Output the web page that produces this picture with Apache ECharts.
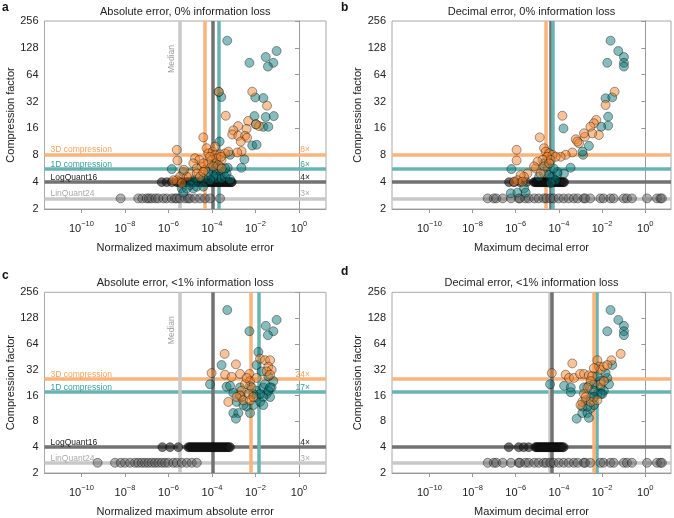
<!DOCTYPE html>
<html><head><meta charset="utf-8">
<script src="https://cdn.jsdelivr.net/npm/echarts@6.0.0/dist/echarts.min.js"></script>
<style>html,body{margin:0;padding:0;background:#fff}#c{width:674px;height:518px}</style>
</head><body><div id="c"></div>
<script>
// ---------- data (x = log10 of error, y = compression factor) ----------
const xTickExponents = [-10, -8, -6, -4, -2, 0];
const LOGQUANT16_FACTOR = 4;
const LINQUANT24_FACTOR = 2.63;

// panel a
const aLinQuant24 = [-8.20,-7.39,-7.20,-7.00,-6.90,-6.77,-6.60,-6.47,-6.24,-6.08,-5.85,-5.70,-5.62,-5.47,-5.24,-5.10,-5.01,-4.78,-4.55,-4.32,-4.09,-3.63];
const aLogQuant16 = [-6.31,-6.08,-5.85,-5.62,-5.55,-5.48,-5.41,-5.34,-5.27,-5.20,-5.13,-5.06,-4.99,-4.92,-4.85,-4.78,-4.71,-4.64,-4.57,-4.50,-4.44,-4.38,-4.32,-4.26,-4.20,-4.14,-4.08,-4.02,-3.96,-3.90,-3.84,-3.78,-3.72,-3.66,-3.60,-3.54,-3.48,-3.42,-3.36,-3.30,-3.24,-3.18,-3.12,-3.09];
const a1D = [[-3.30,154],[-1.03,118],[-1.53,101],[-1.18,87],[-2.28,87],[-1.43,79],[-3.69,41],[-3.57,36],[-2.01,35.6],[-1.64,35],[-2.05,22],[-1.53,21.5],[-1.16,22],[-1.64,16.7],[-1.41,16.7],[-1.98,17.8],[-2.15,10.3],[-1.95,10.5],[-3.65,11.4],[-3.17,8.1],[-2.51,7.2],[-3.28,5.8],[-2.65,5.8],[-5.85,5.6],[-5.32,5.2],[-5.39,3.4],[-5.32,3.05],[-4.86,3.4],[-3.94,5.2],[-3.79,5.0],[-3.63,4.8],[-3.48,5.2],[-3.79,4.4],[-3.56,4.4],[-3.40,4.6],[-3.94,4.6],[-4.09,4.2],[-4.25,4.8],[-4.40,4.4],[-3.33,5.0],[-3.17,4.3],[-3.71,5.7],[-4.02,6.0],[-4.63,4.4],[-4.86,4.2],[-5.01,3.7],[-4.70,3.56],[-4.40,3.56],[-5.16,3.4],[-4.17,5.2],[-3.86,6.5],[-3.63,6.0],[-3.40,5.7]];
const a3D = [[-5.62,9.2],[-5.59,7.0],[-4.40,12.7],[-3.37,22.2],[-2.15,41.3],[-1.47,28.8],[-2.34,19.4],[-2.80,17.0],[-2.41,15.8],[-3.02,15.2],[-3.07,13.7],[-2.79,13.2],[-2.48,13.2],[-2.39,12.6],[-2.68,11.4],[-2.64,8.9],[-2.84,8.6],[-1.84,17.0],[-1.98,17.8],[-3.69,41.3],[-4.78,7.4],[-4.58,7.1],[-4.25,9.6],[-4.17,8.4],[-3.97,8.8],[-3.86,8.1],[-3.63,8.2],[-3.56,7.1],[-3.79,7.4],[-4.02,7.1],[-4.48,6.0],[-4.32,5.5],[-5.01,5.0],[-5.16,4.6],[-5.47,4.6],[-5.62,4.2],[-5.39,3.9],[-4.86,6.5],[-4.70,5.7],[-4.17,6.5],[-4.40,6.5],[-3.40,8.4],[-3.25,8.8],[-3.71,6.2],[-3.56,5.7],[-3.94,6.0],[-4.70,5.0],[-4.55,4.6],[-4.40,5.2],[-5.29,5.5],[-5.78,4.2],[-4.09,7.7],[-3.59,7.7],[-3.86,10.0]];
const aMedians = {lin: -5.50, log: -3.98, d1: -3.69, d3: -4.32};
const aFactors = {d3: 8.2, d1: 5.6};

// panel b
const bLinQuant24 = [-7.30,-7.02,-6.90,-6.60,-6.22,-5.86,-5.81,-5.56,-5.40,-5.14,-4.94,-4.70,-4.58,-4.40,-4.24,-4.01,-3.78,-3.55,-3.31,-3.13,-2.85,-2.78,-2.55,-2.08,-1.93,-1.62,-1.46,-1.00,-0.85,-0.62,0.08,0.54,0.70,0.77];
const bLogQuant16 = [-6.31,-6.08,-5.80,-5.50,-5.15,-5.10,-5.05,-5.00,-4.95,-4.90,-4.85,-4.80,-4.75,-4.70,-4.65,-4.60,-4.55,-4.50,-4.45,-4.40,-4.35,-4.30,-4.25,-4.20,-4.15,-4.10,-4.05,-4.00,-3.95,-3.90,-3.85,-3.80,-3.76];
const b1D = [[-1.61,154],[-1.25,118],[-0.99,101],[-1.76,87],[-0.99,87],[-0.99,79],[-1.84,34.8],[-1.53,35.7],[-1.72,21.7],[-1.72,17.2],[-2.04,16.7],[-3.79,16],[-2.61,10.2],[-2.88,8.1],[-2.91,8.8],[-3.46,5.8],[-3.77,5.0],[-6.20,5.6],[-6.23,3.0],[-5.92,3.05],[-5.61,3.4],[-5.54,3.05],[-4.92,4.6],[-4.69,5.0],[-4.45,4.8],[-4.30,4.6],[-4.07,4.95],[-4.15,4.2],[-4.54,6.0],[-4.69,6.5],[-4.38,3.9],[-4.07,5.2],[-4.25,5.7]];
const b3D = [[-1.42,41.3],[-1.84,29.3],[-2.27,19.9],[-2.38,18.3],[-2.54,16.7],[-2.15,13.5],[-2.46,14.1],[-2.80,12.9],[-3.22,12.1],[-3.07,10.9],[-3.84,22.2],[-4.89,12.7],[-5.96,9.2],[-5.96,7.0],[-3.38,8.6],[-3.69,8.1],[-3.92,7.7],[-4.69,9.6],[-4.61,8.8],[-4.45,8.4],[-4.30,8.1],[-4.15,7.7],[-4.54,7.7],[-4.38,7.1],[-4.76,7.1],[-4.99,6.8],[-4.69,6.0],[-5.07,5.7],[-4.45,6.5],[-4.85,5.0],[-5.46,5.0],[-5.62,4.6],[-5.77,4.8],[-5.92,4.2],[-6.08,4.05],[-5.69,4.05],[-5.15,6.0],[-2.84,14.1],[-3.15,11.4]];
const bMedians = {lin: -4.40, log: -4.37, d1: -4.30, d3: -4.62};
const bFactors = {d3: 8.2, d1: 5.6};

// panel c
const cLinQuant24 = [-9.26,-8.46,-8.20,-8.00,-7.77,-7.54,-7.39,-7.23,-7.08,-6.93,-6.77,-6.62,-6.47,-6.31,-6.16,-6.01,-5.78,-5.62,-5.39,-5.16,-4.93,-4.70];
const cLogQuant16 = [-6.28,-5.93,-5.55,-5.09,-5.03,-4.97,-4.91,-4.85,-4.79,-4.73,-4.67,-4.61,-4.55,-4.49,-4.43,-4.37,-4.31,-4.25,-4.19,-4.13,-4.07,-4.01,-3.95,-3.89,-3.83,-3.77,-3.71,-3.65,-3.59,-3.53,-3.47,-3.41,-3.35,-3.29,-3.23,-3.17];
const c1D = [[-3.30,159],[-1.03,122],[-1.53,104],[-1.18,90],[-2.28,90],[-1.43,81],[-1.87,51.6],[-3.56,36.3],[-4.09,21.7],[-3.33,20.3],[-3.02,17.2],[-2.71,19.9],[-2.25,20.8],[-1.95,18.2],[-1.64,19.9],[-1.49,16.7],[-1.33,15.4],[-1.26,19.9],[-1.18,23.6],[-1.64,15.4],[-1.95,15.4],[-1.79,13.5],[-2.10,12.4],[-2.41,11.9],[-2.25,10.0],[-2.56,12.4],[-3.02,10.0],[-2.79,10.0],[-2.90,8.6],[-1.64,12.4],[-2.87,13.5],[-1.41,26.9],[-1.72,30.6],[-1.95,36.3],[-1.56,21.7],[-1.41,18.2],[-1.79,16.7],[-2.10,16.7],[-2.64,15.4],[-3.17,20.8],[-1.33,19.9]];
const c3D = [[-3.42,49],[-2.90,37],[-4.02,29.3],[-3.40,28.0],[-3.10,26.4],[-2.71,28.6],[-2.28,28.6],[-2.25,23.6],[-2.18,19.9],[-2.48,21.7],[-2.64,18.2],[-2.33,16.7],[-2.71,16.0],[-2.87,15.4],[-3.25,13.5],[-2.56,14.1],[-2.25,14.1],[-2.10,15.4],[-1.79,43.1],[-1.56,41.3],[-1.33,41.3],[-1.41,34.8],[-1.26,31.9],[-1.49,30.6],[-1.95,25.7],[-1.33,28],[-2.41,25.7]];
const cMedians = {lin: -5.50, log: -3.98, d1: -1.87, d3: -2.21};
const cFactors = {d3: 24.8, d1: 17.5};

// panel d
const dLinQuant24 = bLinQuant24.slice();
const dLogQuant16 = [-6.32,-5.86,-5.63,-5.40,-5.09,-5.04,-4.99,-4.94,-4.89,-4.84,-4.79,-4.74,-4.69,-4.64,-4.59,-4.54,-4.49,-4.44,-4.39,-4.34,-4.29,-4.24,-4.19,-4.14,-4.09,-4.04,-3.99,-3.94,-3.89,-3.84,-3.78];
const d1D = [[-1.61,159],[-1.25,122],[-0.99,104],[-1.76,90],[-0.99,90],[-0.99,81],[-4.41,21.7],[-3.76,20.8],[-3.45,19.9],[-3.45,17.5],[-2.84,19.9],[-2.61,20.8],[-2.38,21.7],[-2.07,19.9],[-1.92,18.2],[-1.68,21.7],[-1.76,25.7],[-1.53,36.3],[-1.99,16.7],[-2.22,16.7],[-2.53,15.4],[-2.76,14.1],[-2.92,10.0],[-2.68,10.0],[-2.53,11.4],[-2.61,8.8],[-3.18,8.6],[-2.92,11.9],[-2.38,12.4],[-2.07,23.6],[-2.22,26.9],[-1.84,29.3],[-2.38,18.2],[-2.07,16.7],[-2.68,11.9],[-2.38,15.4]];
const d3D = [[-1.14,49],[-1.57,41.3],[-4.33,29.3],[-3.38,37.9],[-3.69,28.0],[-3.53,25.7],[-3.30,25.7],[-3.02,28.6],[-2.84,28.6],[-2.61,27.5],[-2.46,26.9],[-2.22,41.3],[-2.14,34.8],[-2.07,31.9],[-1.92,34.8],[-1.76,36.3],[-2.38,33.4],[-2.53,23.6],[-2.68,19.9],[-2.84,16.7],[-2.92,13.5],[-3.00,12.4],[-2.53,13.5],[-2.22,14.1],[-2.07,21.7],[-1.92,23.6],[-2.76,15.4]];
const dMedians = {lin: -4.42, log: -4.33, d1: -2.25, d3: -2.37};
const dFactors = {d3: 24.8, d1: 17.5};

// ---------- styling ----------
const FONT = '"Liberation Sans", Arial, Helvetica, sans-serif';
const C = {
  orangeLine: '#fbb47c', tealLine: '#68b4b2', darkLine: '#727272', lightLine: '#c8c8c8',
  orangePt: 'rgba(241,130,42,0.6)', tealPt: 'rgba(7,118,117,0.6)',
  blackPt: 'rgba(25,25,25,0.75)', greyPt: 'rgba(85,85,85,0.55)',
  orangeTxt: '#f5a25e', tealTxt: '#3a9f9c', blackTxt: '#222', greyTxt: '#aaa'
};

const panels = [
  {letter:'a', title:'Absolute error, 0% information loss', xName:'Normalized maximum absolute error',
   grid:{left:44.5, top:21, width:281.5, height:188}, xMin:-11.70, xMax:1.24,
   lin:aLinQuant24, log:aLogQuant16, d1:a1D, d3:a3D, med:aMedians, fac:aFactors,
   labels:['8×','6×','4×','3×'], letterPos:[2,2]},
  {letter:'b', title:'Decimal error, 0% information loss', xName:'Maximum decimal error',
   grid:{left:392, top:21, width:279, height:188}, xMin:-11.73, xMax:1.19,
   lin:bLinQuant24, log:bLogQuant16, d1:b1D, d3:b3D, med:bMedians, fac:bFactors,
   labels:null, letterPos:[341,2]},
  {letter:'c', title:'Absolute error, <1% information loss', xName:'Normalized maximum absolute error',
   grid:{left:44.5, top:292.3, width:281.5, height:187}, xMin:-11.70, xMax:1.24,
   lin:cLinQuant24, log:cLogQuant16, d1:c1D, d3:c3D, med:cMedians, fac:cFactors,
   labels:['24×','17×','4×','3×'], letterPos:[2,270]},
  {letter:'d', title:'Decimal error, <1% information loss', xName:'Maximum decimal error',
   grid:{left:392, top:292.3, width:279, height:187}, xMin:-11.73, xMax:1.19,
   lin:dLinQuant24, log:dLogQuant16, d1:d1D, d3:d3D, med:dMedians, fac:dFactors,
   labels:null, letterPos:[341,266]}
];

function supLabel(v) {
  const e = v < 0 ? '\u2212' + Math.abs(v) : String(v);
  return '{b|10}{s|' + e + '}';
}

const option = {
  animation: false,
  backgroundColor: '#fff',
  textStyle: {fontFamily: FONT},
  title: [], grid: [], xAxis: [], yAxis: [], series: []
};

panels.forEach((p, i) => {
  const g = p.grid;
  option.title.push({text: p.title, left: g.left + g.width / 2, top: p.grid.top - 14.5, textAlign: 'center', padding: 0,
    textStyle: {fontSize: 11, fontWeight: 'normal', color: '#222', fontFamily: FONT}});
  option.title.push({text: p.letter, left: p.letterPos[0], top: p.letterPos[1], padding: 0,
    textStyle: {fontSize: 12, fontWeight: 'bold', color: '#111', fontFamily: FONT}});
  option.grid.push({left: g.left, top: g.top, width: g.width, height: g.height, show: true,
    borderColor: '#a8a8a8', borderWidth: 1, backgroundColor: 'transparent', containLabel: false});
  option.xAxis.push({type: 'value', gridIndex: i, min: p.xMin, max: p.xMax,
    name: p.xName, nameLocation: 'middle', nameGap: 33,
    nameTextStyle: {fontSize: 11, color: '#222', fontFamily: FONT},
    axisLine: {show: true, lineStyle: {color: '#999', width: 1}},
    axisTick: {show: true, length: 4, customValues: xTickExponents, lineStyle: {color: '#999'}},
    splitLine: {show: false},
    axisLabel: {customValues: xTickExponents, margin: 11, formatter: supLabel, color: '#222',
      rich: {b: {fontSize: 11, lineHeight: 14, verticalAlign: 'bottom', color: '#222', fontFamily: FONT},
             s: {fontSize: 7.5, lineHeight: 7, verticalAlign: 'top', color: '#222', fontFamily: FONT}}}
  });
  option.yAxis.push({type: 'log', logBase: 2, gridIndex: i, min: 2, max: 256, splitNumber: 7,
    name: 'Compression factor', nameLocation: 'middle', nameGap: 24,
    nameTextStyle: {fontSize: 11, color: '#222', fontFamily: FONT},
    axisLine: {show: true, lineStyle: {color: '#999', width: 1}},
    axisTick: {show: true, length: 4, lineStyle: {color: '#999'}},
    splitLine: {show: false}, minorTick: {show: false},
    axisLabel: {fontSize: 11, color: '#222', margin: 6, fontFamily: FONT}
  });

  // reference lines
  const lab = p.labels;
  const hl = (val, color, name, txtColor, right) => {
    const out = [{yAxis: val, lineStyle: {color: color, width: 3.5, type: 'solid'},
      label: {show: !!lab, formatter: name, position: 'insideStartTop', distance: [6, 0],
        color: txtColor, fontSize: 8.5, fontFamily: FONT}}];
    if (lab) out.push({yAxis: val, lineStyle: {color: 'rgba(255,255,255,0)', width: 0.1},
      label: {show: true, formatter: right, position: 'insideEndTop', distance: [16, 0],
        color: txtColor, fontSize: 8.5, fontFamily: FONT, opacity: 1}});
    return out;
  };
  const vl = (val, color, withLabel) => ({xAxis: val, lineStyle: {color: color, width: 3.5, type: 'solid'},
    label: {show: !!withLabel, formatter: 'Median', position: 'insideEndTop', distance: [24, 3],
      color: '#a0a0a0', fontSize: 8.5, fontFamily: FONT}});
  const mlData = [].concat(
    hl(p.fac.d3, C.orangeLine, '3D compression', C.orangeTxt, lab && lab[0]),
    hl(p.fac.d1, C.tealLine, '1D compression', C.tealTxt, lab && lab[1]),
    hl(LOGQUANT16_FACTOR, C.darkLine, 'LogQuant16', C.blackTxt, lab && lab[2]),
    hl(LINQUANT24_FACTOR, C.lightLine, 'LinQuant24', C.greyTxt, lab && lab[3]),
    [vl(p.med.lin, C.lightLine, !!lab), vl(p.med.log, C.darkLine), vl(p.med.d1, C.tealLine), vl(p.med.d3, C.orangeLine)]
  );
  option.series.push({type: 'line', xAxisIndex: i, yAxisIndex: i, data: [], silent: true, z: 1,
    markLine: {silent: true, symbol: 'none', animation: false, z: 1, data: mlData}});

  const sc = (data, color) => ({type: 'scatter', xAxisIndex: i, yAxisIndex: i, data: data, symbolSize: 9, z: 10, silent: true,
    itemStyle: {color: color, borderColor: 'rgba(0,0,0,0.6)', borderWidth: 0.8}});
  option.series.push(sc(p.lin.map(x => [x, LINQUANT24_FACTOR]), C.greyPt));
  option.series.push(sc(p.log.map(x => [x, LOGQUANT16_FACTOR]), C.blackPt));
  option.series.push(sc(p.d1, C.tealPt));
  option.series.push(sc(p.d3, C.orangePt));
});

const chart = echarts.init(document.getElementById('c'), null, {renderer: 'canvas'});
chart.setOption(option);
</script></body></html>
